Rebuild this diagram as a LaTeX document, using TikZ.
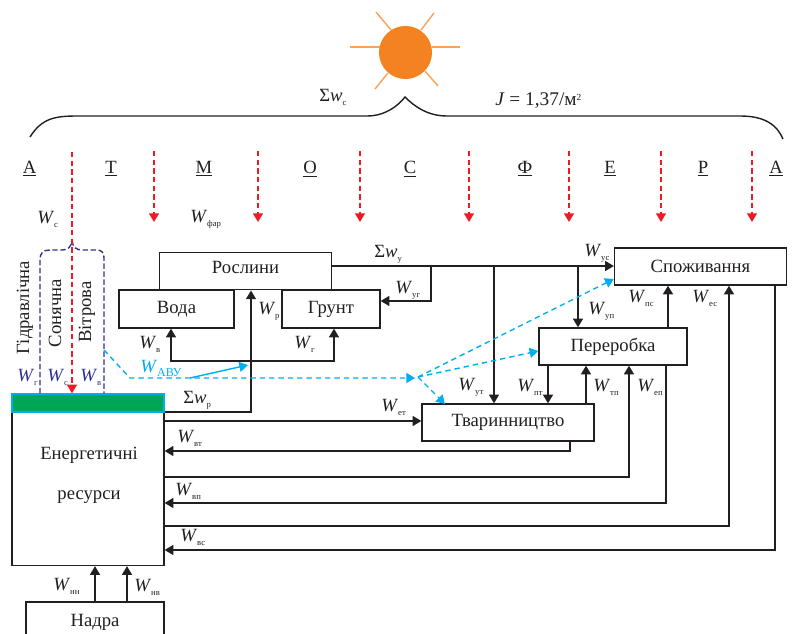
\documentclass[tikz,border=0pt]{standalone}
\usepackage{fontspec}
\setmainfont{Liberation Serif}
\usetikzlibrary{arrows.meta}
\definecolor{ink}{HTML}{231F20}
\definecolor{sunorange}{HTML}{F58220}
\definecolor{rayred}{HTML}{ED1C24}
\definecolor{navyline}{HTML}{2E3192}
\definecolor{skyline}{HTML}{00AEEF}
\definecolor{greenbar}{HTML}{00A651}
\newcommand{\Wlab}[1]{{\fontsize{14}{16}\selectfont\textit{W}}{\fontsize{6.5}{8}\selectfont\raisebox{-3pt}{#1}}}
\newcommand{\Slab}[1]{{\fontsize{14}{16}\selectfont Σ\textit{w}}{\fontsize{6.5}{8}\selectfont\raisebox{-3pt}{#1}}}
\tikzset{
    box/.style={rectangle,draw,line width=1.05pt,inner sep=0pt,font=\fontsize{14}{16}\selectfont},
    wlab/.style={anchor=west,inner sep=0pt},
    flow/.style={line width=1.05pt},
    reddash/.style={rayred,line width=1.05pt,dash pattern=on 4pt off 2.5pt},
    skydash/.style={skyline,line width=1.05pt,dash pattern=on 4pt off 3pt},
    sunray/.style={sunorange!75,line width=1.05pt}
}
\begin{document}
\begin{tikzpicture}[x=0.75pt,y=-0.75pt,color=ink,>={Triangle[width=7.5pt,length=6.5pt]}]
    \useasboundingbox (0,0) rectangle (792,634);
    % sun and brace
    \fill[sunorange] (405.5,52.5) circle (19.9pt);
    \draw[sunray] (350,47) -- (380,47);
    \draw[sunray] (432,47) -- (460,47);
    \draw[sunray] (376,12) -- (391,30);
    \draw[sunray] (434,13) -- (421,30);
    \draw[sunray] (375,89) -- (388,73);
    \draw[sunray] (438,86) -- (425,71);
    \draw[line width=1.05pt] (30,137) .. controls (42,118) and (55,116) .. (78,116) -- (367,116) .. controls (385,116) and (398,106) .. (405,97) .. controls (415,107) and (428,116) .. (447,116) -- (740,116) .. controls (765,116) and (777,125) .. (783,139);
    % atmosphere
    \foreach \x/\t in {29.5/А,111/Т,204/М,310/О,410/С,525/Ф,610/Е,703/Р,776/А}
        \node[font=\fontsize{14}{16}\selectfont] (atm\x) at (\x,169) {\underline{\t}};
    \foreach \x in {154,258,360,469,569,661,752}
        \draw[reddash,->] (\x,151) -- (\x,222);
    % boxes
    \node[box,minimum width=129pt,minimum height=27.75pt,text depth=6pt] (roslyny) at (245.5,271.3) {Рослини};
    \node[box,minimum width=86.25pt,minimum height=28.5pt] (voda) at (176.5,309) {Вода};
    \node[box,minimum width=73.5pt,minimum height=28.5pt] (grunt) at (331,309) {Грунт};
    \node[box,minimum width=129pt,minimum height=27.75pt] (tvar) at (508,422.5) {Тваринництво};
    \node[box,minimum width=111pt,minimum height=27.75pt] (pererobka) at (613,346.5) {Переробка};
    \node[box,minimum width=129pt,minimum height=27.75pt] (spozh) at (700.5,266.5) {Споживання};
    \node[box,minimum width=114pt,minimum height=115.5pt] (energy) at (88,488.5) {};
    \node[font=\fontsize{14}{16}\selectfont] (energy1) at (89,455) {Енергетичні};
    \node[font=\fontsize{14}{16}\selectfont] (energy2) at (89,497) {ресурси};
    \node[box,minimum width=103.5pt,minimum height=30pt] (nadra) at (95,622) {Надра};
    \node[rectangle,draw=skyline,fill=greenbar,line width=1.05pt,inner sep=0pt,minimum width=114pt,minimum height=13.5pt] (bar) at (88,403) {};
    % junctions
    \coordinate (wp) at (251,412);
    \coordinate (wsum) at (332,266);
    \coordinate (wv) at (171,361);
    \coordinate (wg) at (334,361);
    \coordinate (wug) at (431,301);
    \coordinate (wut) at (494,266);
    \coordinate (wup) at (578,266);
    \coordinate (wpt) at (548,365);
    \coordinate (wtp) at (586,404);
    \coordinate (wps) at (668,328);
    \coordinate (wet) at (163,421);
    \coordinate (wvt) at (570,451);
    \coordinate (wep) at (629,477);
    \coordinate (wvp) at (666,503);
    \coordinate (wes) at (729,526);
    \coordinate (wvs) at (775,550);
    \coordinate (wnn) at (95,565);
    \coordinate (wnv) at (127,565);
    % flows
    \draw[flow,->] (energy.north east |- wp) -- (wp) -- (roslyny.south -| wp);
    \draw[flow,<->] (voda.south -| wv) -- (wv) -- (wg) -- (grunt.south -| wg);
    \draw[flow,->] (wsum) -- (spozh.west |- wsum);
    \draw[flow,->] (wug |- wsum) -- (wug) -- (grunt.east |- wug);
    \draw[flow,->] (wut) -- (tvar.north -| wut);
    \draw[flow,->] (wup) -- (pererobka.north -| wup);
    \draw[flow,->] (wpt) -- (tvar.north -| wpt);
    \draw[flow,->] (wtp) -- (pererobka.south -| wtp);
    \draw[flow,->] (wps) -- (spozh.south -| wps);
    \draw[flow,->] (wet) -- (tvar.west |- wet);
    \draw[flow,->] (tvar.south -| wvt) -- (wvt) -- (energy.east |- wvt);
    \draw[flow,->] (energy.east |- wep) -- (wep) -- (pererobka.south -| wep);
    \draw[flow,->] (pererobka.south -| wvp) -- (wvp) -- (energy.east |- wvp);
    \draw[flow,->] (energy.east |- wes) -- (wes) -- (spozh.south -| wes);
    \draw[flow,->] (spozh.south -| wvs) -- (wvs) -- (energy.east |- wvs);
    \draw[flow,->] (nadra.north -| wnn) -- (energy.south -| wnn);
    \draw[flow,->] (nadra.north -| wnv) -- (energy.south -| wnv);
    % renewable sources
    \draw[navyline,line width=1.05pt,dash pattern=on 4pt off 2pt] (bar.north -| 40,0) -- (40,260) .. controls (40,253) and (43,250) .. (50,250) -- (62,250) .. controls (68,250) and (71,247) .. (72,241) .. controls (73,247) and (76,250) .. (82,250) -- (97,250) .. controls (102,250) and (104,253) .. (104,258) -- (bar.north -| 104,0);
    \draw[reddash,->] (72,152) -- (bar.north -| 72,0);
    \coordinate (avu) at (130,378);
    \coordinate (avuend) at (415,378);
    \coordinate (split) at (418,377);
    \draw[skydash,->] (104,350) -- (avu) -- (avuend);
    \draw[skydash,->] (split) -- (spozh.west |- 0,279);
    \draw[skydash,->] (split) -- (pererobka.west |- 0,351);
    \draw[skydash,->] (split) -- (445,404);
    \draw[skyline,line width=1.05pt,->] (190,378) -- (248,365);
    % source names
    \node[rotate=90,font=\fontsize{14}{16}\selectfont] (gidro) at (25,308) {Гідравлічна};
    \node[rotate=90,font=\fontsize{14}{16}\selectfont] (sonce) at (55,313) {Сонячна};
    \node[rotate=90,font=\fontsize{14}{16}\selectfont] (viter) at (87,312) {Вітрова};
    % labels
    \foreach \n/\x/\y/\s in {lc/37/219/с,lfar/190/219/фар,lvb/139/344/в,lr/258/311/р,lug/395/290/уг,lgb/294/344/г,lut/458/387/ут,lpt/517/387/пт,ltp/593/387/тп,lep/637/387/еп,let/381/407/ет,lus/584/253/ус,lps/628/298/пс,les/692/298/ес,lup/588/311/уп,lvt/177/438/вт,lvp/175/491/вп,lvs/180/537/вс,lnn/53/586/нн,lnv/134/587/нв}
        \node[wlab] (\n) at (\x,\y) {\Wlab{\s}};
    \foreach \n/\x/\s in {lgn/17/г,lcn/47/с,lvn/80/в}
        \node[wlab,navyline] (\n) at (\x,377) {\Wlab{\s}};
    \node[wlab,skyline] (lavu) at (140,368) {{\fontsize{14}{16}\selectfont\textit{W}}{\fontsize{9}{11}\selectfont\raisebox{-3pt}{АВУ}}};
    \node[wlab] (lsc) at (319,97) {\Slab{с}};
    \node[wlab] (lsr) at (183,400) {\Slab{р}};
    \node[wlab] (lsu) at (374,254) {\Slab{у}};
    \node[wlab,font=\fontsize{14.5}{16}\selectfont] (lj) at (495,101) {\textit{J} = 1,37/м\raisebox{4pt}{\fontsize{7}{9}\selectfont 2}};
\end{tikzpicture}
\end{document}
